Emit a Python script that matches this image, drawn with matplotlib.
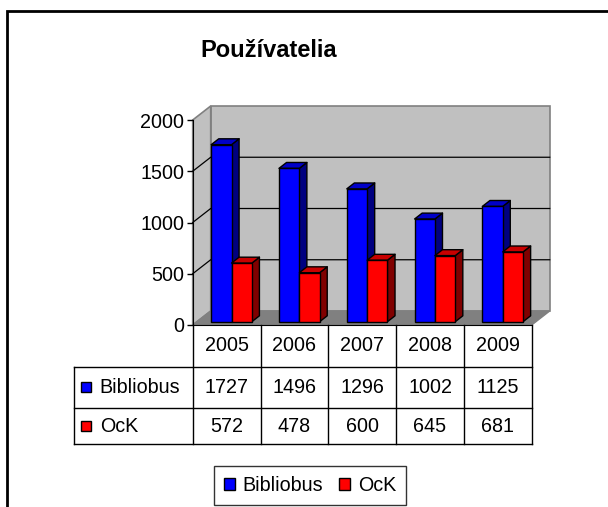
import matplotlib
matplotlib.use('Agg')
import matplotlib.pyplot as plt
from matplotlib.patches import Polygon, Rectangle, Patch
import matplotlib.transforms as mtransforms

# ---------------- data ----------------
years = ['2005', '2006', '2007', '2008', '2009']
series_names = ['Bibliobus', 'OcK']
bibliobus = [1727, 1496, 1296, 1002, 1125]
ock = [572, 478, 600, 645, 681]
yticks = [0, 500, 1000, 1500, 2000]
title = 'Používatelia'

# ---------------- style ----------------
plt.rcParams['font.family'] = ['Liberation Sans', 'DejaVu Sans']
W, H, DPI = 608, 507, 100
FS = 14.2
front_cols = ['#0000ff', '#ff0000']
top_cols = ['#0000c8', '#c80000']
side_cols = ['#000080', '#800000']
wall_col = '#c0c0c0'
floor_col = '#808080'
edge_gray = '#808080'

fig = plt.figure(figsize=(W / DPI, H / DPI), dpi=DPI)
fig.patch.set_facecolor('white')


def px(x0, y0, x1, y1):
    return [x0 / W, 1 - y1 / H, (x1 - x0) / W, (y1 - y0) / H]


# outer chart-area frame (extends past right/bottom edges)
fig.add_artist(Rectangle((6.5 / W, -0.2), 1.5, 1 - 11 / H + 0.2,
                         transform=fig.transFigure, fill=False,
                         edgecolor='black', linewidth=2))

ax = fig.add_axes(px(192.7, 120, 531.7, 325))
ax.set_xlim(-0.5, len(years) - 0.5)
ax.set_ylim(0, 2000)
ax.patch.set_visible(False)
for s in ['top', 'right']:
    ax.spines[s].set_visible(False)
ax.spines['left'].set_color('black')
ax.spines['bottom'].set_color('black')
ax.spines['left'].set_zorder(6)
ax.spines['bottom'].set_zorder(6)

n = len(years)
x0, x1 = -0.5, n - 0.5
ymax = 2000
DX = 18 / 67.8      # depth offset in category units
DY = 14 / 0.1025    # depth offset in value units

# back wall
ax.add_patch(Polygon([(x0 + DX, DY), (x1 + DX, DY), (x1 + DX, ymax + DY), (x0 + DX, ymax + DY)],
                     closed=True, facecolor=wall_col, edgecolor=edge_gray, lw=1.2,
                     clip_on=False, zorder=1))
# side wall
ax.add_patch(Polygon([(x0, 0), (x0 + DX, DY), (x0 + DX, ymax + DY), (x0, ymax)],
                     closed=True, facecolor=wall_col, edgecolor=edge_gray, lw=1.2,
                     clip_on=False, zorder=1))
# floor
ax.add_patch(Polygon([(x0, 0), (x1, 0), (x1 + DX, DY), (x0 + DX, DY)],
                     closed=True, facecolor=floor_col, edgecolor=edge_gray, lw=1.0,
                     clip_on=False, zorder=1))
# gridlines
for v in yticks[1:-1]:
    ax.plot([x0, x0 + DX, x1 + DX], [v, v + DY, v + DY], color='black', lw=0.9,
            clip_on=False, zorder=2)

# bars
f0 = 0.236   # front face depth fraction
fb = 0.42    # bar depth fraction
bw = 0.30
offsets = [-0.29, 0.01]
for si, vals in enumerate([bibliobus, ock]):
    for i, v in enumerate(vals):
        xl = i + offsets[si] + f0 * DX
        xr = xl + bw
        yb = f0 * DY
        yt = v + f0 * DY
        ddx, ddy = fb * DX, fb * DY
        z = 3 + si
        ax.add_patch(Polygon([(xr, yb), (xr + ddx, yb + ddy), (xr + ddx, yt + ddy), (xr, yt)],
                             closed=True, facecolor=side_cols[si], edgecolor='black',
                             lw=1.0, zorder=z, clip_on=False, joinstyle='round'))
        ax.add_patch(Polygon([(xl, yt), (xr, yt), (xr + ddx, yt + ddy), (xl + ddx, yt + ddy)],
                             closed=True, facecolor=top_cols[si], edgecolor='black',
                             lw=1.0, zorder=z, clip_on=False, joinstyle='round'))
        ax.add_patch(Rectangle((xl, yb), bw, yt - yb, facecolor=front_cols[si],
                               edgecolor='black', lw=1.0, zorder=z, clip_on=False))

ax.set_yticks(yticks)
ax.set_yticklabels([str(t) for t in yticks])
ax.set_xticks([])
ax.tick_params(axis='y', length=4, width=1, pad=2, labelsize=FS, colors='black')

# ---------------- data table ----------------
tr = mtransforms.blended_transform_factory(ax.transData, ax.transAxes)
row_edges = [0, -0.2034, -0.4034, -0.582]
lab_x = -0.5 - (192.7 - 74.3) / 67.8
tl = dict(color='black', lw=1.0, transform=tr, clip_on=False, zorder=6)
for k in range(n + 1):
    ax.plot([x0 + k, x0 + k], [row_edges[0], row_edges[-1]], **tl)
ax.plot([lab_x, lab_x], [row_edges[1], row_edges[-1]], **tl)
for re in row_edges[1:]:
    ax.plot([lab_x, x1], [re, re], **tl)

for i, yr in enumerate(years):
    ax.text(i, (row_edges[0] + row_edges[1]) / 2, yr, transform=tr, ha='center',
            va='center', fontsize=FS)
for si, vals in enumerate([bibliobus, ock]):
    yc = (row_edges[si + 1] + row_edges[si + 2]) / 2
    for i, v in enumerate(vals):
        ax.text(i, yc, str(v), transform=tr, ha='center', va='center', fontsize=FS)
    ax.plot([lab_x + 12 / 67.8], [yc], marker='s', markersize=7.5, markerfacecolor=front_cols[si],
            markeredgecolor='black', markeredgewidth=1.0, transform=tr, clip_on=False, zorder=7)
    ax.text(lab_x + 25.5 / 67.8, yc, series_names[si], transform=tr, ha='left',
            va='center', fontsize=FS)

# ---------------- legend ----------------
handles = [Patch(facecolor=front_cols[k], edgecolor='black', lw=1.0) for k in range(2)]
leg = fig.legend(handles, series_names, loc='center', bbox_to_anchor=(310 / W, 1 - 485.5 / H),
                 ncol=2, fontsize=FS, frameon=True, fancybox=False, edgecolor='black',
                 handlelength=0.55, handleheight=0.55, handletextpad=0.4,
                 columnspacing=0.8, borderpad=0.5)
leg.get_frame().set_linewidth(1.0)

# ---------------- title ----------------
fig.text(269 / W, 1 - 50 / H, title, ha='center', va='center', fontsize=17,
         fontweight='bold')

fig.savefig('out.png', dpi=DPI)
